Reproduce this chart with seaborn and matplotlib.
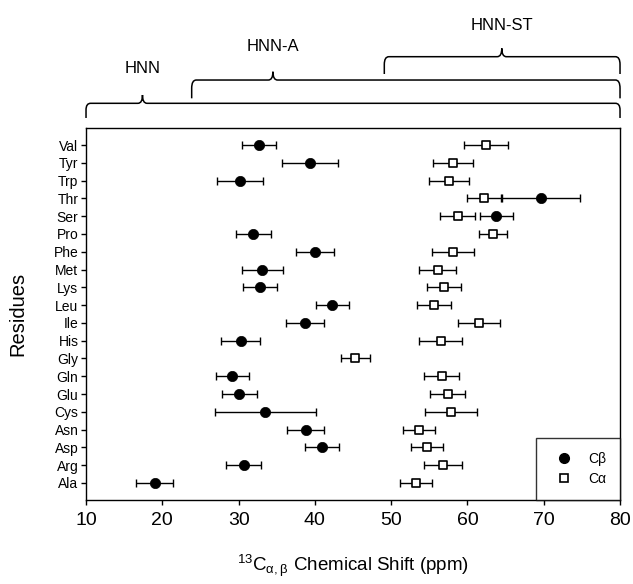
import matplotlib.pyplot as plt
import matplotlib.transforms as mtransforms
from matplotlib.lines import Line2D
from matplotlib.path import Path
from matplotlib.patches import PathPatch
import numpy as np
import pandas as pd
import seaborn as sns

# residues as listed top -> bottom in the figure
residues = ["Val", "Tyr", "Trp", "Thr", "Ser", "Pro", "Phe", "Met", "Lys", "Leu",
            "Ile", "His", "Gly", "Gln", "Glu", "Cys", "Asn", "Asp", "Arg", "Ala"]

# C-beta shifts (ppm) and error bars
cb_shift = [32.7, 39.35, 30.2, 69.6, 63.8, 31.9, 40.0, 33.1, 32.8, 42.3,
            38.7, 30.3, np.nan, 29.2, 30.1, 33.5, 38.8, 40.9, 30.7, 19.0]
cb_err = [2.25, 3.7, 3.05, 5.2, 2.2, 2.3, 2.5, 2.7, 2.27, 2.2,
          2.45, 2.55, np.nan, 2.2, 2.3, 6.6, 2.4, 2.2, 2.3, 2.4]

# C-alpha shifts (ppm) and error bars
ca_shift = [62.4, 58.1, 57.6, 62.2, 58.7, 63.3, 58.1, 56.1, 56.9, 55.6,
            61.5, 56.5, 45.3, 56.6, 57.4, 57.9, 53.6, 54.7, 56.8, 53.2]
ca_err = [2.9, 2.65, 2.6, 2.3, 2.25, 1.85, 2.75, 2.4, 2.25, 2.2,
          2.75, 2.8, 1.9, 2.3, 2.25, 3.4, 2.1, 2.15, 2.55, 2.1]

# braces above the plot: (label, start, cusp, end) in ppm
brace_labels = ["HNN", "HNN-A", "HNN-ST"]
brace_start = [10, 23.85, 49.1]
brace_cusp = [17.4, 34.5, 64.5]
brace_end = [80, 80, 80]

sns.set_style("ticks")
plt.rcParams['font.family'] = ['Liberation Sans', 'DejaVu Sans']
plt.rcParams['mathtext.default'] = 'regular'
plt.rcParams.update({"text.color": "black", "axes.labelcolor": "black",
                     "xtick.color": "black", "ytick.color": "black"})

df = pd.DataFrame({"residue": residues, "cb": cb_shift, "cb_err": cb_err,
                   "ca": ca_shift, "ca_err": ca_err})
df["pos"] = np.arange(len(residues))[::-1]

fig = plt.figure(figsize=(6.33, 5.84), dpi=100)
ax = fig.add_axes([0.1359, 0.1438, 0.8436, 0.637])

# error bars
ax.errorbar(df["cb"], df["pos"], xerr=df["cb_err"], fmt="none", ecolor="black",
            elinewidth=1, capsize=3, capthick=1, zorder=2)
ax.errorbar(df["ca"], df["pos"], xerr=df["ca_err"], fmt="none", ecolor="black",
            elinewidth=1, capsize=3, capthick=1, zorder=2)

# markers
sns.scatterplot(data=df, x="cb", y="pos", marker="o", s=55, color="black",
                edgecolor="black", linewidth=0.5, ax=ax, zorder=3)
sns.scatterplot(data=df, x="ca", y="pos", marker="s", s=38, color="white",
                edgecolor="black", linewidth=1.2, ax=ax, zorder=3)

ax.set_xlim(10, 80)
ax.set_ylim(-0.96, len(residues) - 1 + 0.96)
ax.set_xticks(np.arange(10, 81, 10))
ax.set_yticks(df["pos"], df["residue"])
ax.tick_params(axis="x", labelsize=14, length=3.5, width=1, pad=5, direction="out")
ax.tick_params(axis="y", labelsize=10, length=3.5, width=1, pad=2, direction="out")
for sp in ax.spines.values():
    sp.set_visible(True)
    sp.set_linewidth(1)
    sp.set_color("black")

ax.set_xlabel(r"$^{13}$C$_{\alpha,\beta}$ Chemical Shift (ppm)", fontsize=13.5, labelpad=17)
ax.set_ylabel("Residues", fontsize=14.5)
ax.yaxis.set_label_coords(-0.11, 0.5)

# legend
handles = [Line2D([], [], marker="o", ls="none", color="black", markersize=7),
           Line2D([], [], marker="s", ls="none", markerfacecolor="white",
                  markeredgecolor="black", markeredgewidth=1.2, markersize=6)]
leg = ax.legend(handles, ["Cβ", "Cα"], loc="lower right", bbox_to_anchor=(1, 0),
                borderaxespad=0, fontsize=10, frameon=True, fancybox=False,
                edgecolor="black", borderpad=1.0, handlelength=2.0,
                handletextpad=0.75, labelspacing=0.45)
leg.get_frame().set_linewidth(1)

# braces (x in data units, y in axes fraction)
trans = mtransforms.blended_transform_factory(ax.transData, ax.transAxes)
brace_y = [(1.027, 1.0664, 1.0887, 1.1605),
           (1.0798, 1.129, 1.1513, 1.2186),
           (1.1452, 1.1917, 1.2142, 1.2769)]
rx = 0.6
for lab, x0, xc, x1, (yb, yl, yt, ytxt) in zip(brace_labels, brace_start, brace_cusp,
                                                brace_end, brace_y):
    ry = (yl - yb) * 0.45
    verts = [(x0, yb), (x0, yl - ry), (x0, yl), (x0 + rx, yl),
             (xc - rx, yl), (xc, yl), (xc, yt), (xc, yl), (xc + rx, yl),
             (x1 - rx, yl), (x1, yl), (x1, yl - ry), (x1, yb)]
    codes = [Path.MOVETO, Path.LINETO, Path.CURVE3, Path.CURVE3,
             Path.LINETO, Path.CURVE3, Path.CURVE3, Path.CURVE3, Path.CURVE3,
             Path.LINETO, Path.CURVE3, Path.CURVE3, Path.LINETO]
    patch = PathPatch(Path(verts, codes), transform=trans, fill=False,
                      edgecolor="black", linewidth=1.1, clip_on=False)
    ax.add_patch(patch)
    ax.text(xc, ytxt, lab, transform=trans, ha="center", va="center", fontsize=12)

fig.savefig("out.png", dpi=100)
